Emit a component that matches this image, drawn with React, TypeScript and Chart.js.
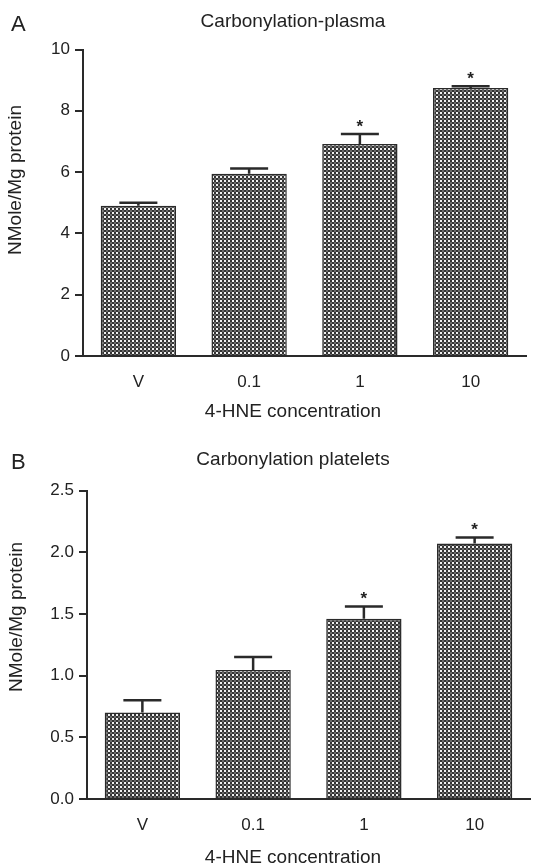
import React, { useEffect, useRef } from "react";
import { Chart, registerables } from "chart.js";
Chart.register(...registerables);

const categories = ["V", "0.1", "1", "10"];

const plasmaMeans = [4.9, 5.95, 6.92, 8.74];
const plasmaErrors = [0.1, 0.17, 0.32, 0.06];
const plasmaSig = [false, false, true, true];
const plasmaTicks = [0, 2, 4, 6, 8, 10];
const plasmaTickLabels = ["0", "2", "4", "6", "8", "10"];

const plateletMeans = [0.7, 1.045, 1.46, 2.07];
const plateletErrors = [0.1, 0.105, 0.1, 0.05];
const plateletSig = [false, false, true, true];
const plateletTicks = [0, 0.5, 1.0, 1.5, 2.0, 2.5];
const plateletTickLabels = ["0.0", "0.5", "1.0", "1.5", "2.0", "2.5"];

const FONT = "'Liberation Sans', Arial, Helvetica, sans-serif";
const INK = "#2a2a2a";

function makePattern(): CanvasPattern | string {
  const c = document.createElement("canvas");
  c.width = 4;
  c.height = 4;
  const g = c.getContext("2d");
  if (!g) return "#777";
  g.fillStyle = "#333333";
  g.fillRect(0, 0, 4, 4);
  g.fillStyle = "#f0f0f0";
  g.fillRect(0, 0, 2, 2);
  g.fillStyle = "#6a6a6a";
  g.fillRect(2, 2, 2, 2);
  const p = g.createPattern(c, "repeat");
  return p || "#777";
}

type PanelProps = {
  letter: string;
  title: string;
  means: number[];
  errors: number[];
  sig: boolean[];
  ticks: number[];
  tickLabels: string[];
  padTop: number;
  padRight: number;
  yWidth: number;
  xHeight: number;
  titleY: number;
  letterY: number;
  xTitleY: number;
  yTitleX: number;
  yTitleY: number;
};

function Panel(props: PanelProps) {
  const ref = useRef<HTMLCanvasElement | null>(null);
  useEffect(() => {
    const canvas = ref.current;
    if (!canvas) return;
    const pattern = makePattern();
    const overlay = {
      id: "overlay",
      afterDatasetsDraw(chart: any) {
        const ctx = chart.ctx;
        const meta = chart.getDatasetMeta(0);
        const yS = chart.scales.y;
        ctx.save();
        ctx.strokeStyle = INK;
        ctx.fillStyle = "#222";
        ctx.lineWidth = 2.5;
        meta.data.forEach((bar: any, i: number) => {
          const top = yS.getPixelForValue(props.means[i]);
          const cap = yS.getPixelForValue(props.means[i] + props.errors[i]);
          ctx.beginPath();
          ctx.moveTo(bar.x, top);
          ctx.lineTo(bar.x, cap);
          ctx.moveTo(bar.x - 19, cap);
          ctx.lineTo(bar.x + 19, cap);
          ctx.stroke();
          if (props.sig[i]) {
            ctx.font = `bold 17px ${FONT}`;
            ctx.textAlign = "center";
            ctx.textBaseline = "middle";
            ctx.fillText("*", bar.x, cap - 7);
          }
        });
        ctx.restore();
      },
      afterDraw(chart: any) {
        const ctx = chart.ctx;
        ctx.save();
        ctx.fillStyle = "#222";
        ctx.textBaseline = "middle";
        ctx.font = `22px ${FONT}`;
        ctx.textAlign = "left";
        ctx.fillText(props.letter, 11, props.letterY);
        ctx.font = `19px ${FONT}`;
        ctx.textAlign = "center";
        ctx.fillText(props.title, 293, props.titleY);
        ctx.fillText("4-HNE concentration", 293, props.xTitleY);
        ctx.translate(props.yTitleX, props.yTitleY);
        ctx.rotate(-Math.PI / 2);
        ctx.fillText("NMole/Mg protein", 0, 0);
        ctx.restore();
      },
    };
    const chart = new Chart(canvas, {
      type: "bar",
      data: {
        labels: categories,
        datasets: [
          {
            data: props.means,
            backgroundColor: pattern as any,
            borderColor: INK,
            borderWidth: 1.5,
            barPercentage: 0.68,
            categoryPercentage: 1,
          },
        ],
      },
      options: {
        animation: false,
        responsive: false,
        maintainAspectRatio: false,
        layout: { padding: { top: props.padTop, right: props.padRight, left: 0, bottom: 0 } },
        plugins: { legend: { display: false }, tooltip: { enabled: false }, title: { display: false } },
        scales: {
          x: {
            grid: { display: false, drawTicks: false },
            border: { display: true, color: INK, width: 2 },
            ticks: { font: { family: FONT, size: 17 }, color: "#222", padding: 16 },
            afterFit: (s: any) => {
              s.height = props.xHeight;
            },
          },
          y: {
            min: props.ticks[0],
            max: props.ticks[props.ticks.length - 1],
            afterBuildTicks: (s: any) => {
              s.ticks = props.ticks.map((v) => ({ value: v }));
            },
            ticks: {
              font: { family: FONT, size: 17 },
              color: "#222",
              padding: 5,
              callback: (_v: any, i: number) => props.tickLabels[i],
            },
            grid: { drawOnChartArea: false, drawTicks: true, tickLength: 8, color: INK, lineWidth: 2 },
            border: { display: true, color: INK, width: 2 },
            afterFit: (s: any) => {
              s.width = props.yWidth;
            },
          },
        },
      },
      plugins: [overlay],
    });
    return () => chart.destroy();
  }, []);
  return <canvas ref={ref} width={545} height={434} style={{ display: "block", width: 545, height: 434 }} />;
}

export default function App() {
  return (
    <div style={{ position: "absolute", left: 0, top: 0, width: 545, height: 868, background: "#fff" }}>
      <Panel
        letter="A"
        title="Carbonylation-plasma"
        means={plasmaMeans}
        errors={plasmaErrors}
        sig={plasmaSig}
        ticks={plasmaTicks}
        tickLabels={plasmaTickLabels}
        padTop={49.5}
        padRight={19}
        yWidth={83}
        xHeight={78}
        titleY={22}
        letterY={25}
        xTitleY={412}
        yTitleX={16}
        yTitleY={180}
      />
      <Panel
        letter="B"
        title="Carbonylation platelets"
        means={plateletMeans}
        errors={plateletErrors}
        sig={plateletSig}
        ticks={plateletTicks}
        tickLabels={plateletTickLabels}
        padTop={56.5}
        padRight={15}
        yWidth={87}
        xHeight={69}
        titleY={25.5}
        letterY={29}
        xTitleY={423.5}
        yTitleX={17}
        yTitleY={183}
      />
    </div>
  );
}
